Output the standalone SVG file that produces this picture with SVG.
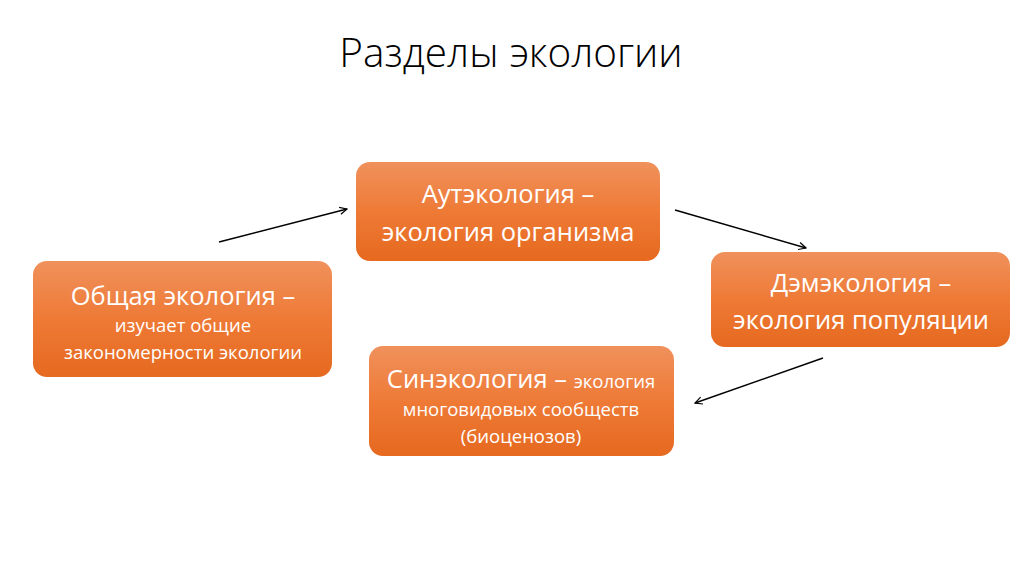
<svg xmlns="http://www.w3.org/2000/svg" width="1024" height="574" viewBox="0 0 1024 574">
<defs>
<linearGradient id="g" x1="0" y1="0" x2="0" y2="1">
<stop offset="0" stop-color="#F0915C"/>
<stop offset="0.5" stop-color="#EE7A36"/>
<stop offset="1" stop-color="#E6691F"/>
</linearGradient>
<marker id="a" viewBox="0 0 10 10" refX="9" refY="5" markerWidth="9" markerHeight="9" orient="auto" markerUnits="userSpaceOnUse">
<path d="M1,1 L9,5 L1,9" fill="none" stroke="#000" stroke-width="1.3"/>
</marker>
</defs>
<style>
.box{fill:url(#g);}
text{font-family:"Open Sans","Liberation Sans",sans-serif;fill:#fff;text-anchor:middle;}
.big{font-size:25.5px;}
.sm{font-size:18.5px;}
.title{fill:#000;font-size:40.5px;font-weight:300;}
.c{stroke:#000;stroke-width:1.4;fill:none;marker-end:url(#a);}
</style>
<rect width="1024" height="574" fill="#fff"/>
<text class="title" x="511" y="67">Разделы экологии</text>
<g id="connectors">
<line class="c" x1="219" y1="242" x2="347" y2="209"/>
<line class="c" x1="675" y1="210" x2="806" y2="248"/>
<line class="c" x1="823" y1="358" x2="695" y2="403"/>
</g>
<g id="general">
<rect class="box" x="33" y="261" width="299" height="116" rx="14"/>
<text class="big" x="183" y="305">Общая экология –</text>
<text class="sm" x="183" y="332">изучает общие</text>
<text class="sm" x="183" y="359">закономерности экологии</text>
</g>
<g id="aut">
<rect class="box" x="356" y="162" width="304" height="99" rx="14"/>
<text class="big" x="508" y="203">Аутэкология –</text>
<text class="big" x="508" y="241">экология организма</text>
</g>
<g id="dem">
<rect class="box" x="711" y="252" width="299" height="95" rx="14"/>
<text class="big" x="861" y="292">Дэмэкология –</text>
<text class="big" x="861" y="329">экология популяции</text>
</g>
<g id="syn">
<rect class="box" x="369" y="346" width="305" height="110" rx="14"/>
<text x="521" y="388"><tspan class="big">Синэкология – </tspan><tspan class="sm">экология</tspan></text>
<text class="sm" x="521" y="416">многовидовых сообществ</text>
<text class="sm" x="521" y="443">(биоценозов)</text>
</g>
</svg>
